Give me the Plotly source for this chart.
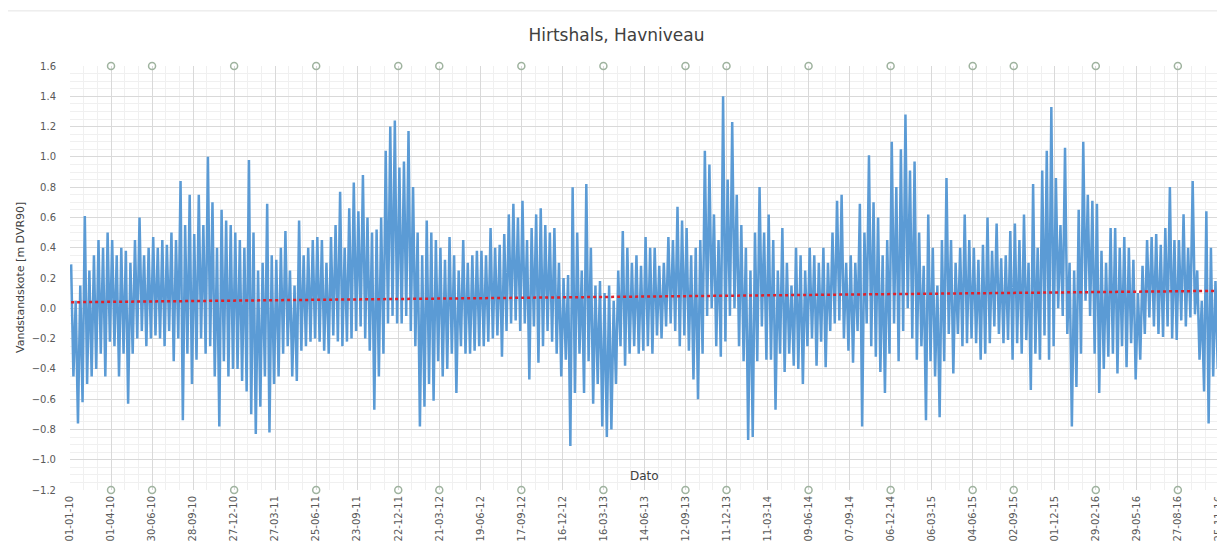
import numpy as np
import plotly.graph_objects as go

# ---------------- data ----------------
title_text = "Hirtshals, Havniveau"
y_title = "Vandstandskote [m DVR90]"
x_title = "Dato"

start_date = "2010-01-01"
end_date = "2016-11-25"
step_days = 10  # envelope sampling interval (days)

# 10-day high envelope of the water level [m DVR90], 9 values per 90-day block
hi_env = [
    0.29, 0.05, 0.15, 0.61, 0.25, 0.35, 0.45, 0.40, 0.50,
    0.45, 0.35, 0.40, 0.38, 0.30, 0.45, 0.60, 0.35, 0.40,
    0.47, 0.40, 0.45, 0.42, 0.50, 0.45, 0.84, 0.55, 0.75,
    0.49, 0.75, 0.55, 1.00, 0.70, 0.40, 0.65, 0.58, 0.55,
    0.50, 0.45, 0.40, 0.98, 0.50, 0.25, 0.30, 0.69, 0.35,
    0.32, 0.40, 0.51, 0.25, 0.15, 0.58, 0.35, 0.40, 0.45,
    0.47, 0.45, 0.30, 0.47, 0.55, 0.77, 0.40, 0.66, 0.83,
    0.64, 0.88, 0.60, 0.50, 0.52, 0.60, 1.04, 1.20, 1.24,
    0.93, 0.97, 1.17, 0.80, 0.50, 0.35, 0.58, 0.50, 0.45,
    0.40, 0.32, 0.47, 0.35, 0.25, 0.45, 0.30, 0.35, 0.38,
    0.38, 0.35, 0.53, 0.40, 0.42, 0.49, 0.62, 0.69, 0.60,
    0.71, 0.45, 0.53, 0.62, 0.66, 0.55, 0.50, 0.53, 0.30,
    0.20, 0.22, 0.80, 0.50, 0.25, 0.82, 0.40, 0.15, 0.18,
    0.10, 0.15, 0.05, 0.25, 0.51, 0.40, 0.30, 0.35, 0.28,
    0.47, 0.40, 0.40, 0.28, 0.30, 0.47, 0.45, 0.67, 0.58,
    0.53, 0.35, 0.40, 0.45, 1.04, 0.95, 0.62, 0.45, 1.40,
    0.85, 1.23, 0.75, 0.55, 0.40, 0.25, 0.50, 0.80, 0.50,
    0.62, 0.45, 0.25, 0.53, 0.30, 0.15, 0.40, 0.35, 0.25,
    0.40, 0.35, 0.30, 0.40, 0.30, 0.50, 0.71, 0.75, 0.30,
    0.35, 0.30, 0.69, 0.50, 1.01, 0.70, 0.60, 0.35, 0.45,
    1.10, 0.80, 1.05, 1.28, 0.91, 0.97, 0.50, 0.28, 0.62,
    0.40, 0.15, 0.45, 0.86, 0.45, 0.30, 0.40, 0.62, 0.45,
    0.40, 0.32, 0.42, 0.60, 0.38, 0.56, 0.33, 0.35, 0.51,
    0.56, 0.45, 0.62, 0.30, 0.82, 0.40, 0.91, 1.04, 1.33,
    0.86, 0.55, 1.06, 0.30, 0.25, 0.65, 1.10, 0.75, 0.71,
    0.69, 0.38, 0.30, 0.53, 0.53, 0.40, 0.47, 0.40, 0.32,
    0.10, 0.28, 0.45, 0.47, 0.49, 0.42, 0.53, 0.80, 0.45,
    0.45, 0.62, 0.40, 0.84, 0.25, 0.05, 0.64, 0.40, 0.18,
]

# 10-day low envelope of the water level [m DVR90]
lo_env = [
    -0.45, -0.76, -0.62, -0.50, -0.45, -0.40, -0.30, -0.45, -0.22,
    -0.25, -0.45, -0.30, -0.63, -0.30, -0.20, -0.15, -0.25, -0.20,
    -0.18, -0.20, -0.25, -0.15, -0.35, -0.20, -0.74, -0.30, -0.50,
    -0.34, -0.20, -0.30, -0.25, -0.45, -0.78, -0.35, -0.45, -0.40,
    -0.40, -0.48, -0.55, -0.70, -0.83, -0.65, -0.45, -0.82, -0.50,
    -0.45, -0.30, -0.25, -0.45, -0.48, -0.28, -0.25, -0.22, -0.20,
    -0.22, -0.28, -0.30, -0.18, -0.22, -0.25, -0.22, -0.20, -0.15,
    -0.12, -0.20, -0.28, -0.67, -0.45, -0.30, -0.10, -0.05, -0.10,
    -0.10, -0.05, -0.15, -0.25, -0.78, -0.65, -0.50, -0.61, -0.35,
    -0.45, -0.40, -0.30, -0.56, -0.25, -0.30, -0.30, -0.28, -0.25,
    -0.25, -0.22, -0.20, -0.18, -0.32, -0.15, -0.10, -0.08, -0.15,
    -0.10, -0.47, -0.12, -0.36, -0.25, -0.15, -0.22, -0.30, -0.45,
    -0.34, -0.91, -0.56, -0.30, -0.56, -0.35, -0.63, -0.50, -0.78,
    -0.85, -0.80, -0.50, -0.25, -0.38, -0.30, -0.25, -0.30, -0.28,
    -0.25, -0.30, -0.18, -0.20, -0.12, -0.10, -0.15, -0.25, -0.18,
    -0.28, -0.47, -0.60, -0.30, -0.05, 0.00, -0.25, -0.32, -0.22,
    -0.05, 0.00, -0.25, -0.35, -0.87, -0.85, -0.35, -0.12, -0.34,
    -0.34, -0.67, -0.30, -0.42, -0.30, -0.38, -0.40, -0.50, -0.25,
    -0.20, -0.38, -0.22, -0.39, -0.15, -0.10, -0.08, -0.20, -0.28,
    -0.36, -0.15, -0.78, -0.10, -0.25, -0.32, -0.42, -0.56, -0.30,
    -0.10, -0.35, -0.15, 0.00, -0.20, -0.34, -0.25, -0.74, -0.35,
    -0.45, -0.72, -0.35, -0.17, -0.43, -0.17, -0.25, -0.23, -0.20,
    -0.23, -0.34, -0.30, -0.23, -0.12, -0.17, -0.23, -0.21, -0.34,
    -0.23, -0.30, -0.21, -0.54, -0.30, -0.34, -0.18, -0.34, -0.25,
    0.00, -0.05, -0.17, -0.78, -0.52, -0.30, 0.05, -0.05, -0.30,
    -0.56, -0.40, -0.32, -0.30, -0.43, -0.25, -0.39, -0.23, -0.47,
    -0.34, -0.17, -0.06, -0.12, -0.17, -0.19, -0.12, -0.20, -0.21,
    -0.08, -0.12, -0.06, -0.04, -0.34, -0.55, -0.76, -0.45, -0.40,
]

# linear trend line end values
trend_start = 0.04
trend_end = 0.115

tick_dates = [
    "2010-01-01", "2010-04-01", "2010-06-30", "2010-09-28", "2010-12-27",
    "2011-03-27", "2011-06-25", "2011-09-23", "2011-12-22", "2012-03-21",
    "2012-06-19", "2012-09-17", "2012-12-16", "2013-03-16", "2013-06-14",
    "2013-09-12", "2013-12-11", "2014-03-11", "2014-06-09", "2014-09-07",
    "2014-12-06", "2015-03-06", "2015-06-04", "2015-09-02", "2015-12-01",
    "2016-02-29", "2016-05-29", "2016-08-27", "2016-11-25",
]
tick_labels = [
    "01-01-10", "01-04-10", "30-06-10", "28-09-10", "27-12-10",
    "27-03-11", "25-06-11", "23-09-11", "22-12-11", "21-03-12",
    "19-06-12", "17-09-12", "16-12-12", "16-03-13", "14-06-13",
    "12-09-13", "11-12-13", "11-03-14", "09-06-14", "07-09-14",
    "06-12-14", "06-03-15", "04-06-15", "02-09-15", "01-12-15",
    "29-02-16", "29-05-16", "27-08-16", "25-11-16",
]

# dates carrying the small open-circle markers (top and bottom of the plot)
marker_dates = [
    "2010-04-01", "2010-06-30", "2010-12-27", "2011-06-25", "2011-12-22",
    "2012-03-21", "2012-09-17", "2013-03-16", "2013-09-12", "2013-12-11",
    "2014-06-09", "2014-12-06", "2015-06-04", "2015-09-02", "2016-02-29",
    "2016-08-27",
]
marker_top = 1.6
marker_bottom = -1.2

y_min, y_max = -1.2, 1.6

# ---------------- build series ----------------
base = np.datetime64(start_date, "h")
n = len(hi_env)
idx = np.arange(n) * step_days * 24
t_hi = base + (idx + 60).astype("timedelta64[h]")
t_lo = base + (idx + 180).astype("timedelta64[h]")
xs = np.empty(2 * n, dtype="datetime64[h]")
ys = np.empty(2 * n)
xs[0::2] = t_hi
xs[1::2] = t_lo
ys[0::2] = hi_env
ys[1::2] = lo_env
x_str = np.datetime_as_string(xs, unit="h")

BLUE = "#5B9BD5"
GRID = "#D9D9D9"
MINOR = "#F0F0F0"
TXT = "#595959"
FONT = "DejaVu Sans, sans-serif"

fig = go.Figure()
fig.add_trace(go.Scatter(
    x=x_str, y=ys, mode="lines",
    line=dict(color=BLUE, width=2.5), showlegend=False, hoverinfo="skip",
))
fig.add_trace(go.Scatter(
    x=[x_str[0], x_str[-1]], y=[trend_start, trend_end], mode="lines",
    line=dict(color="#E0202A", width=2.5, dash="dot"), showlegend=False,
))
fig.add_trace(go.Scatter(
    x=marker_dates + marker_dates,
    y=[marker_top] * len(marker_dates) + [marker_bottom] * len(marker_dates),
    mode="markers",
    marker=dict(symbol="circle-open", size=7, color="#9FB39F", line=dict(width=1.5)),
    cliponaxis=False, showlegend=False,
))

# the page adds an 8 px body margin, so the figure is 8 px smaller than the window
fig.update_layout(
    width=1217, height=544,
    margin=dict(l=62, r=6, t=58, b=62),
    paper_bgcolor="white", plot_bgcolor="white",
    font=dict(family=FONT, color=TXT, size=10),
    title=dict(text=title_text, x=0.5, xanchor="center", y=0.95, yanchor="middle",
               font=dict(family=FONT, size=17, color="#404040")),
    showlegend=False,
)
fig.update_xaxes(
    type="date", automargin=False,
    range=[start_date, "2016-11-25 06:00"],
    tickmode="array", tickvals=tick_dates, ticktext=tick_labels,
    tickangle=-90, tickfont=dict(family=FONT, size=10, color=TXT),
    showgrid=True, gridcolor=GRID, gridwidth=1,
    minor=dict(tick0=start_date, dtick=30 * 86400000, showgrid=True, gridcolor=MINOR),
    showline=False, zeroline=False, ticks="", ticklabelstandoff=3,
)
fig.update_yaxes(
    automargin=False,
    range=[y_min, y_max], dtick=0.2, tick0=0, tickformat=".1f",
    tickfont=dict(family=FONT, size=10, color=TXT),
    showgrid=True, gridcolor=GRID, gridwidth=1,
    minor=dict(dtick=0.05, showgrid=True, gridcolor=MINOR),
    zeroline=False, showline=False, ticks="", ticklabelstandoff=13,
)
fig.add_annotation(
    text=y_title, xref="paper", yref="paper", x=-50 / 1149, y=0.5,
    xanchor="center", yanchor="middle", textangle=-90, showarrow=False,
    font=dict(family=FONT, size=11, color="#404040"),
)
fig.add_annotation(
    text=x_title, xref="paper", yref="paper", x=0.5, y=0.0,
    xanchor="center", yanchor="bottom", yshift=5, showarrow=False,
    font=dict(family=FONT, size=12, color="#404040"),
)
fig.add_shape(type="line", xref="paper", yref="paper", x0=-0.06, x1=1.005,
              y0=1.13, y1=1.13, line=dict(color="#E4E4E4", width=1))

fig.write_html("out.html")
